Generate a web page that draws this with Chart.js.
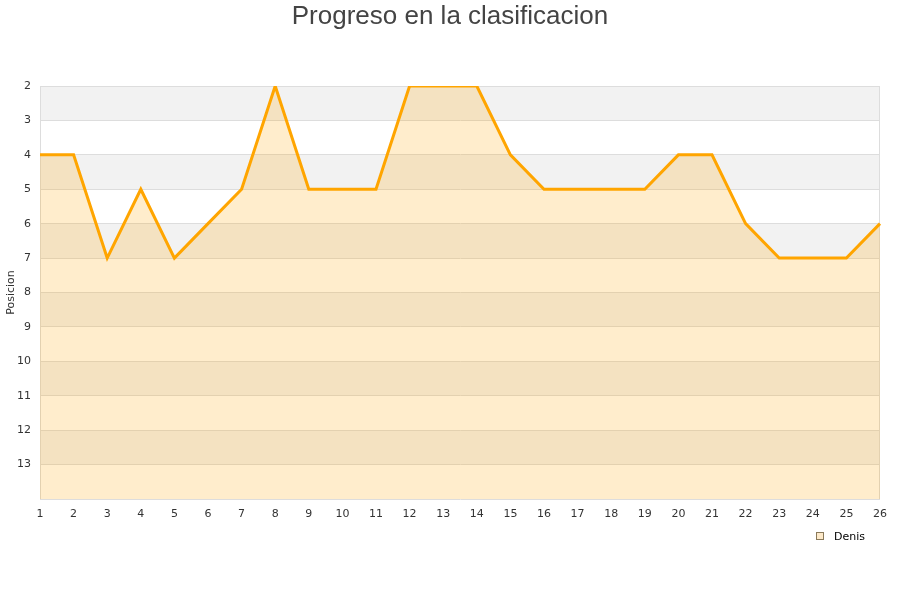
<!DOCTYPE html>
<html>
<head>
<meta charset="utf-8">
<script src="https://cdn.jsdelivr.net/npm/chart.js@4"></script>
<style>
  body { margin: 0; background: #fff; }
  #wrap { width: 900px; height: 600px; }
</style>
</head>
<body>
<div id="wrap"><canvas id="posChart" width="900" height="600"></canvas></div>
<script>
// Jornadas 1..26 and the position each round
const rounds = ["1","2","3","4","5","6","7","8","9","10","11","12","13","14","15","16","17","18","19","20","21","22","23","24","25","26"];
const positions = [4,4,7,5,7,6,5,2,5,5,5,2,2,2,4,5,5,5,5,4,4,6,7,7,7,6];
const playerName = "Denis";
const yMin = 2;
const yMax = 14;

//Alternating grey bands behind the plot + right border
const bandsPlugin = {
    id: 'bands',
    beforeDraw(chart) {
        const ctx = chart.ctx;
        const area = chart.chartArea;
        const y = chart.scales.y;
        ctx.save();
        for (let v = yMin; v < yMax; v += 2) {
            const top = y.getPixelForValue(v);
            const bottom = y.getPixelForValue(v + 1);
            ctx.fillStyle = '#f2f2f2';
            ctx.fillRect(area.left, top, area.right - area.left, bottom - top);
        }
        ctx.strokeStyle = '#dddddd';
        ctx.lineWidth = 1;
        ctx.beginPath();
        ctx.moveTo(area.right - 0.5, area.top);
        ctx.lineTo(area.right - 0.5, area.bottom);
        ctx.stroke();
        ctx.restore();
    }
};

//Small legend at the bottom right
const legendPlugin = {
    id: 'smallLegend',
    afterDraw(chart) {
        const ctx = chart.ctx;
        ctx.save();
        ctx.fillStyle = '#fde9c9';
        ctx.fillRect(816, 532, 8, 8);
        ctx.strokeStyle = '#8a7a5a';
        ctx.lineWidth = 1;
        ctx.strokeRect(816.5, 532.5, 7, 7);
        ctx.fillStyle = '#000';
        ctx.font = '11px "DejaVu Sans", sans-serif';
        ctx.textBaseline = 'middle';
        ctx.textAlign = 'left';
        ctx.fillText(playerName, 834, 537);
        ctx.restore();
    }
};

const ctx = document.getElementById('posChart').getContext('2d');
new Chart(ctx, {
    type: 'line',
    data: {
        labels: rounds,
        datasets: [{
            label: playerName,
            data: positions,
            borderColor: '#ffa500',
            borderWidth: 3,
            backgroundColor: 'rgba(255,165,0,0.2)',
            fill: 'start',
            tension: 0,
            pointRadius: 0,
            pointHoverRadius: 0
        }]
    },
    options: {
        responsive: false,
        animation: false,
        layout: { padding: 0 },
        plugins: {
            legend: { display: false },
            tooltip: { enabled: false },
            title: {
                display: true,
                text: 'Progreso en la clasificacion',
                color: '#444',
                font: { family: '"Liberation Sans", Arial, sans-serif', size: 26, weight: 'normal' },
                padding: { top: 1, bottom: 53.8 }
            }
        },
        scales: {
            x: {
                offset: false,
                grid: { display: false, drawTicks: false },
                border: { display: false },
                ticks: {
                    color: '#333',
                    padding: 9,
                    maxRotation: 0,
                    autoSkip: false,
                    font: { family: '"DejaVu Sans", sans-serif', size: 11 }
                },
                afterFit(scale) { scale.height = 101; }
            },
            y: {
                reverse: true,
                min: yMin,
                max: yMax,
                grid: { color: '#dddddd', drawTicks: false },
                border: { color: '#dddddd' },
                ticks: {
                    stepSize: 1,
                    color: '#333',
                    padding: 9,
                    font: { family: '"DejaVu Sans", sans-serif', size: 11 },
                    callback: (v) => (v >= yMax ? '' : v)
                },
                title: {
                    display: true,
                    text: 'Posicion',
                    color: '#333',
                    font: { family: '"DejaVu Sans", sans-serif', size: 11 },
                    padding: { top: 5, bottom: 0 }
                },
                afterFit(scale) { scale.width = 40; }
            },
            //empty axis on the right, only keeps a 20px margin
            yRight: {
                position: 'right',
                display: true,
                grid: { display: false, drawTicks: false },
                border: { display: false },
                ticks: { display: false },
                afterFit(scale) { scale.width = 20; }
            }
        }
    },
    plugins: [bandsPlugin, legendPlugin]
});
</script>
</body>
</html>
